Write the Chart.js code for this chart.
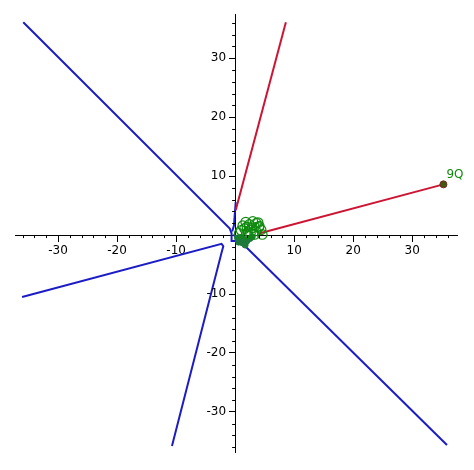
<!DOCTYPE html>
<html>
<head>
<meta charset="utf-8">
<script src="https://cdn.jsdelivr.net/npm/chart.js@4"></script>
<style>
  body { margin: 0; background: #fff; }
  canvas { display: block; }
</style>
</head>
<body>
<canvas id="plot" width="474" height="470"></canvas>
<script>
// curve pieces (x, y)
const blueUpper = [[-35.9, 36.1], [-0.9, 1.1], [-0.6, 0.3], [-0.6, -1.0], [0.8, -1.0], [2.4, -1.2]];
const blueSpike = [[0.1, 5.6], [-0.2, 1.6], [-0.5, 0.6]];
const blueDiag = [[-0.3, 0.1], [35.9, -35.6]];
const blueLower = [[-36.1, -10.5], [-2.3, -1.5], [-2.0, -1.9], [-2.3, -3.0], [-10.7, -35.8]];
const redSteep = [[0.1, 4.2], [8.6, 36.1]];
const redFlat = [[4.2, 0.3], [35.3, 8.6]];

const ringX = [1.3, 1.8, 2.4, 3.0, 3.6, 4.1, 4.4, 1.0, 1.6, 2.2, 2.9, 3.5, 4.0, 2.6, 3.3, 1.9, 4.6, 2.0, 0.7, 3.9];
const ringY = [1.6, 2.2, 1.8, 2.3, 2.0, 1.5, 0.9, 0.8, 1.1, 0.6, 1.2, 0.7, 1.3, 0.3, 0.1, 0.2, 0.1, 1.4, 0.3, 2.1];
const dotX = [0.4, 0.8, 1.2, 1.7, 1.0, 2.0, 2.5, 1.5, 0.6, 2.9];
const dotY = [-0.5, -0.9, -1.3, -1.7, -0.4, -1.0, -0.6, -0.7, -1.2, -0.3];
const endPoint = [35.3, 8.6];
const labelText = '9Q';
const labelAt = [[35.3, 8.6], [2.4, 1.3]];

const xTicks = [-30, -20, -10, 10, 20, 30];
const yTicks = [-30, -20, -10, 10, 20, 30];

const pts = a => a.map(p => ({ x: p[0], y: p[1] }));
const zip = (xs, ys) => xs.map((x, i) => ({ x: x, y: ys[i] }));

const BLUE = '#1c1cc4';
const RED = '#cc1433';
const GREEN = '#108a10';
const FONT = '12px "DejaVu Sans"';

function lineSet(data, color) {
  return { data: pts(data), showLine: true, borderColor: color, borderWidth: 2, pointRadius: 0, fill: false, tension: 0 };
}

// minor ticks every 2, y labels left of the axis, point labels
const extras = {
  id: 'extras',
  afterDatasetsDraw(chart) {
    const c = chart.ctx, xs = chart.scales.x, ys = chart.scales.y;
    const x0 = xs.getPixelForValue(0), y0 = ys.getPixelForValue(0);
    c.save();
    c.strokeStyle = '#000';
    c.lineWidth = 1;
    c.beginPath();
    for (let v = -36; v <= 36; v += 2) {
      if (v % 10 === 0) continue;
      const px = Math.round(xs.getPixelForValue(v)) + 0.5;
      c.moveTo(px, y0); c.lineTo(px, y0 + 3);
      const py = Math.round(ys.getPixelForValue(v)) + 0.5;
      c.moveTo(x0, py); c.lineTo(x0 - 3, py);
    }
    c.stroke();
    c.font = FONT;
    c.fillStyle = '#000';
    c.textAlign = 'right';
    c.textBaseline = 'middle';
    yTicks.forEach(v => c.fillText(String(v), x0 - 9, ys.getPixelForValue(v)));
    c.fillStyle = GREEN;
    c.textAlign = 'left';
    c.textBaseline = 'alphabetic';
    labelAt.forEach((p, i) => {
      const px = xs.getPixelForValue(p[0]), py = ys.getPixelForValue(p[1]);
      if (i === 0) c.fillText(labelText, px + 3, py - 6);
      else c.fillText(labelText, px - 6, py + 4);
    });
    c.restore();
  }
};

function axisOpts(min, max, pos, labels, showLabels) {
  return {
    type: 'linear',
    min: min,
    max: max,
    position: pos,
    border: { display: true, color: '#000', width: 1 },
    grid: {
      drawOnChartArea: false,
      tickLength: 6,
      tickColor: ctx => (ctx.tick && labels.includes(ctx.tick.value)) ? '#000' : 'rgba(0,0,0,0)'
    },
    ticks: {
      stepSize: 2,
      autoSkip: false,
      includeBounds: false,
      maxRotation: 0,
      padding: 3,
      color: '#000',
      font: { family: 'DejaVu Sans', size: 12 },
      callback: v => (showLabels && labels.includes(v)) ? String(v) : ''
    }
  };
}

new Chart(document.getElementById('plot'), {
  type: 'scatter',
  data: {
    datasets: [
      { data: [{ x: endPoint[0], y: endPoint[1] }], pointRadius: 3.5, backgroundColor: '#3f5a12', borderColor: '#7a2a1a', borderWidth: 1 },
      { data: zip(ringX, ringY), pointRadius: 4.8, backgroundColor: 'rgba(0,0,0,0)', borderColor: GREEN, borderWidth: 1.2 },
      { data: zip(dotX, dotY), pointRadius: 3, backgroundColor: '#1d7a3a', borderColor: '#1d7a3a', borderWidth: 1 },
      lineSet(redSteep, RED),
      lineSet(redFlat, RED),
      lineSet(blueUpper, BLUE),
      lineSet(blueSpike, BLUE),
      lineSet(blueDiag, BLUE),
      lineSet(blueLower, BLUE)
    ]
  },
  options: {
    responsive: false,
    animation: false,
    layout: { padding: { left: 15, right: 17, top: 14, bottom: 18 } },
    plugins: { legend: { display: false }, tooltip: { enabled: false } },
    scales: {
      x: axisOpts(-37.3, 37.6, { y: 0 }, xTicks, true),
      y: axisOpts(-36.8, 37.5, { x: 0 }, yTicks, false)
    }
  },
  plugins: [extras]
});
</script>
</body>
</html>
